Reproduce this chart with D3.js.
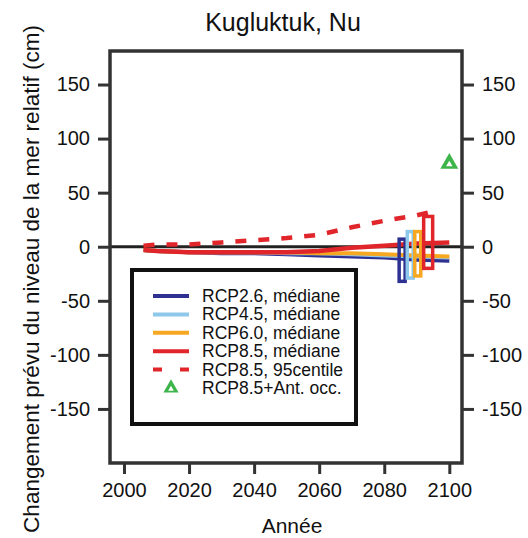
<!DOCTYPE html>
<html>
<head>
<meta charset="utf-8">
<script src="https://cdn.jsdelivr.net/npm/d3@7"></script>
<style>
  body { margin: 0; background: #fff; }
  text { font-family: "Liberation Sans", Arial, sans-serif; fill: #111; }
</style>
</head>
<body>
<div id="chart"></div>
<script>
// median lines (cm)
let years = [2006, 2010, 2020, 2030, 2040, 2050, 2060, 2070, 2080, 2090, 2100];
let rcp26 = [-3, -4, -5, -6, -6, -7, -8, -9, -10, -12, -13];
let rcp45 = [-3, -4, -5, -5, -5, -6, -6, -7, -8, -9, -10];
let rcp60 = [-3, -4, -5, -5, -5, -5, -6, -6, -7, -8, -9];
let rcp85 = [-3, -4, -5, -5, -5, -5, -4, -1, 1, 3, 4];

// 95th percentile, RCP8.5
let p95Years = [2006, 2010, 2020, 2030, 2040, 2050, 2060, 2070, 2080, 2090, 2094];
let p95 = [1, 2, 2, 4, 6, 8, 11, 18, 24, 29, 32];

// 2100 ranges drawn as boxes
let boxNames = ['RCP2.6', 'RCP4.5', 'RCP6.0', 'RCP8.5'];
let boxYears = [2085.5, 2088, 2090.3, 2093.5];
let boxLow = [-32, -29, -27, -20];
let boxHigh = [7, 14, 14, 28];

// RCP8.5 + Antarctic
let antYear = 2100, antValue = 77;

let xTicks = [2000, 2020, 2040, 2060, 2080, 2100];
let yTicks = [-150, -100, -50, 0, 50, 100, 150];

let colors = {
  'RCP2.6': '#2e3192',
  'RCP4.5': '#8ec8ea',
  'RCP6.0': '#f7a823',
  'RCP8.5': '#e0262b'
};

let width = 528, height = 538;
let m = { top: 51, right: 66, bottom: 75, left: 110 };

let svg = d3.select('#chart').append('svg')
  .attr('width', width)
  .attr('height', height);

let x = d3.scaleLinear().domain([1995.7, 2103.9]).range([m.left, width - m.right]);
let y = d3.scaleLinear().domain([-200, 181]).range([height - m.bottom, m.top]);

// title
svg.append('text')
  .attr('x', 283).attr('y', 31)
  .attr('text-anchor', 'middle')
  .style('font-size', '25px')
  .text('Kugluktuk, Nu');

// axes
let fs = '20px';
let xAxis = svg.append('g')
  .attr('transform', `translate(0,${height - m.bottom})`)
  .call(d3.axisBottom(x).tickValues(xTicks).tickFormat(d => String(d)).tickSize(11).tickSizeOuter(0).tickPadding(9));
let yLeft = svg.append('g')
  .attr('transform', `translate(${m.left},0)`)
  .call(d3.axisLeft(y).tickValues(yTicks).tickFormat(d => String(d)).tickSize(12).tickSizeOuter(0).tickPadding(8));
let yRight = svg.append('g')
  .attr('transform', `translate(${width - m.right},0)`)
  .call(d3.axisRight(y).tickValues(yTicks).tickFormat(d => String(d)).tickSize(12).tickSizeOuter(0).tickPadding(8));

[xAxis, yLeft, yRight].forEach(g => {
  g.select('.domain').remove();
  g.selectAll('.tick line').attr('stroke', '#333').attr('stroke-width', 3);
  g.selectAll('.tick text').style('font-size', fs)
    .style('font-family', '"Liberation Sans", Arial, sans-serif').attr('fill', '#111');
});

// zero line
svg.append('line')
  .attr('x1', x.range()[0]).attr('x2', x.range()[1])
  .attr('y1', y(0)).attr('y2', y(0))
  .attr('stroke', '#222').attr('stroke-width', 3);

let line = d3.line().x(d => x(d[0])).y(d => y(d[1]));

// median lines
let medians = [
  ['RCP2.6', rcp26],
  ['RCP4.5', rcp45],
  ['RCP6.0', rcp60],
  ['RCP8.5', rcp85]
];
medians.forEach(([name, vals]) => {
  svg.append('path')
    .datum(years.map((yr, i) => [yr, vals[i]]))
    .attr('d', line)
    .attr('fill', 'none')
    .attr('stroke', colors[name])
    .attr('stroke-width', name === 'RCP8.5' ? 4.5 : 4);
});

// range boxes
boxNames.forEach((name, i) => {
  let cx = x(boxYears[i]);
  let w = name === 'RCP8.5' ? 9 : 6;
  svg.append('rect')
    .attr('x', cx - w / 2)
    .attr('y', y(boxHigh[i]))
    .attr('width', w)
    .attr('height', y(boxLow[i]) - y(boxHigh[i]))
    .attr('fill', 'none')
    .attr('stroke', colors[name])
    .attr('stroke-width', 3.5);
});

// 95 centile dashed
svg.append('path')
  .datum(p95Years.map((yr, i) => [yr, p95[i]]))
  .attr('d', line)
  .attr('fill', 'none')
  .attr('stroke', colors['RCP8.5'])
  .attr('stroke-width', 4.5)
  .attr('stroke-dasharray', '11,12');

// triangle
let tri = d3.symbol().type(d3.symbolTriangle).size(140);
let hole = d3.symbol().type(d3.symbolTriangle).size(18);
svg.append('path')
  .attr('d', tri())
  .attr('transform', `translate(${x(antYear)},${y(antValue)})`)
  .attr('fill', '#3db54a');
svg.append('path')
  .attr('d', hole())
  .attr('transform', `translate(${x(antYear)},${y(antValue) + 1})`)
  .attr('fill', '#fff');

// frame
svg.append('rect')
  .attr('x', m.left).attr('y', m.top)
  .attr('width', width - m.left - m.right)
  .attr('height', height - m.top - m.bottom)
  .attr('fill', 'none')
  .attr('stroke', '#333')
  .attr('stroke-width', 3.5);

// legend
let legend = svg.append('g');
legend.append('rect')
  .attr('x', 132).attr('y', 270)
  .attr('width', 224).attr('height', 154)
  .attr('fill', '#fff')
  .attr('stroke', '#111')
  .attr('stroke-width', 4);

let legendItems = [
  { label: 'RCP2.6, médiane', color: colors['RCP2.6'], type: 'line' },
  { label: 'RCP4.5, médiane', color: colors['RCP4.5'], type: 'line' },
  { label: 'RCP6.0, médiane', color: colors['RCP6.0'], type: 'line' },
  { label: 'RCP8.5, médiane', color: colors['RCP8.5'], type: 'line' },
  { label: 'RCP8.5, 95centile', color: colors['RCP8.5'], type: 'dash' },
  { label: 'RCP8.5+Ant. occ.', color: '#3db54a', type: 'tri' }
];
legendItems.forEach((d, i) => {
  let yy = 296 + i * 18.4;
  if (d.type === 'tri') {
    legend.append('path')
      .attr('d', d3.symbol().type(d3.symbolTriangle).size(100)())
      .attr('transform', `translate(171,${yy})`)
      .attr('fill', d.color);
    legend.append('path')
      .attr('d', d3.symbol().type(d3.symbolTriangle).size(14)())
      .attr('transform', `translate(171,${yy + 1})`)
      .attr('fill', '#fff');
  } else {
    legend.append('line')
      .attr('x1', 153).attr('x2', 189)
      .attr('y1', yy).attr('y2', yy)
      .attr('stroke', d.color)
      .attr('stroke-width', 4)
      .attr('stroke-dasharray', d.type === 'dash' ? '9,18' : null);
  }
  legend.append('text')
    .attr('x', 202).attr('y', yy + 6)
    .style('font-size', '17.5px')
    .text(d.label);
});

// axis titles
svg.append('text')
  .attr('x', 292).attr('y', 533)
  .attr('text-anchor', 'middle')
  .style('font-size', '21px')
  .text('Année');

svg.append('text')
  .attr('transform', `translate(39,279) rotate(-90)`)
  .attr('text-anchor', 'middle')
  .style('font-size', '22.5px')
  .text('Changement prévu du niveau de la mer relatif (cm)');
</script>
</body>
</html>
